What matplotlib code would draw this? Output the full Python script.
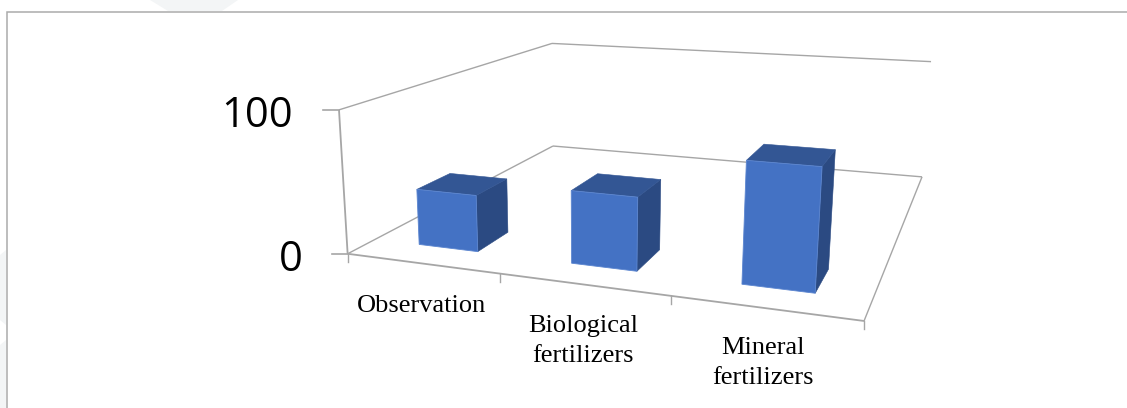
import numpy as np
import matplotlib
matplotlib.use("Agg")
import matplotlib.pyplot as plt
from matplotlib.patches import Polygon

# --- chart data ---
categories = ["Observation", "Biological\nfertilizers", "Mineral\nfertilizers"]
values = [40, 50, 80]
y_ticks = [0, 100]
y_tick_labels = ["0", "100"]

# --- axis frame as seen in perspective, used to calibrate the projection ---
frame_calibration = [
    ((0, 0, 0), (348, 254)), ((1, 0, 0), (500, 274)), ((2, 0, 0), (670, 296)),
    ((3, 0, 0), (865, 320)), ((3, 1, 0), (922, 177)), ((0, 1, 0), (553, 146)),
    ((0, 0, 100), (339, 110)), ((0, 1, 100), (552, 43)), ((3, 1, 100), (931, 62)),
]
A, b = [], []
for (u, d, z), (x, y) in frame_calibration:
    z = z / 100
    A.append([u, d, z, 1, 0, 0, 0, 0, -x * u, -x * d, -x * z]); b.append(x)
    A.append([0, 0, 0, 0, u, d, z, 1, -y * u, -y * d, -y * z]); b.append(y)
p = np.linalg.lstsq(np.array(A, float), np.array(b, float), rcond=None)[0]
P = np.append(p, 1).reshape(3, 4)


def proj(u, d, z):
    v = P @ np.array([u, d, z / 100, 1.0])
    return v[:2] / v[2]


FRONT, TOP, SIDE = "#4472C4", "#335694", "#2B4A82"
GRID = "#A6A6A6"
U0, U1 = 0.306, 0.703
D0, D1 = 0.10, 0.235

fig = plt.figure(figsize=(11.27, 4.08), dpi=100, facecolor="white")
ax = fig.add_axes([0, 0, 1, 1])
ax.set_xlim(0, 1127)
ax.set_ylim(408, 0)
ax.axis("off")

# faint page watermark and page frame
ax.add_patch(Polygon([(150, 0), (168, 11), (222, 11), (238, 0)], fc="#F3F5F6", ec="none"))
ax.add_patch(Polygon([(0, 255), (6, 250), (6, 325), (0, 320)], fc="#F3F5F6", ec="none"))
ax.add_patch(Polygon([(0, 345), (6, 340), (6, 408), (0, 408)], fc="#F3F5F6", ec="none"))
ax.plot([6.5, 6.5, 1127], [408, 11.5, 11.5], color="#ABABAB", lw=1.1, solid_joinstyle="miter")


def seg(a, b_, lw=1.0, color=GRID):
    pa, pb = proj(*a), proj(*b_)
    ax.plot([pa[0], pb[0]], [pa[1], pb[1]], color=color, lw=lw, solid_capstyle="butt")


n = len(categories)
zmax = y_ticks[-1]
# floor outline, back wall and side wall
seg((0, 0, 0), (n, 0, 0), 1.3)
seg((n, 0, 0), (n, 1, 0))
seg((n, 1, 0), (0, 1, 0))
seg((0, 1, 0), (0, 0, 0))
seg((0, 0, 0), (0, 0, zmax), 1.3)
seg((0, 0, zmax), (0, 1, zmax))
seg((0, 1, zmax), (n, 1, zmax))

# tick marks
for t in y_ticks:
    px, py = proj(0, 0, t)
    ax.plot([px - 16, px], [py, py], color=GRID, lw=1.2)
for i in range(n + 1):
    px, py = proj(i, 0, 0)
    ax.plot([px, px], [py, py + 8], color=GRID, lw=1.0)

# bars
for i, v in enumerate(values):
    u0, u1 = i + U0, i + U1
    front = [proj(u0, D0, 0), proj(u1, D0, 0), proj(u1, D0, v), proj(u0, D0, v)]
    side = [proj(u1, D0, 0), proj(u1, D1, 0), proj(u1, D1, v), proj(u1, D0, v)]
    top = [proj(u0, D0, v), proj(u1, D0, v), proj(u1, D1, v), proj(u0, D1, v)]
    ax.add_patch(Polygon(side, fc=SIDE, ec=SIDE, lw=0.4, zorder=3))
    ax.add_patch(Polygon(top, fc=TOP, ec=TOP, lw=0.4, zorder=3))
    ax.add_patch(Polygon(front, fc=FRONT, ec="#5C86D0", lw=0.6, zorder=4))

# value-axis labels
for t, lab in zip(y_ticks, y_tick_labels):
    px, py = proj(0, 0, t)
    ax.text(px - 45 if t == 0 else 293, py + 6, lab, ha="right", va="center",
            fontsize=30, family="Open Sans", color="black")

# category labels
label_pos = [(422, 306), (583, 341), (763, 363)]
for lab, (x, y) in zip(categories, label_pos):
    ax.text(x, y, lab, ha="center", va="center", fontsize=19,
            family="Liberation Serif", color="black", linespacing=1.45)

fig.savefig("out.png", dpi=100, facecolor="white")
